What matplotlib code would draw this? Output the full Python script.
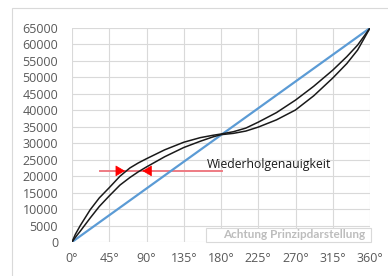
import matplotlib

matplotlib.use("Agg")
import matplotlib.pyplot as plt
from matplotlib.patches import Rectangle

plt.rcParams["font.family"] = ["Open Sans", "DejaVu Sans"]

# Werte
winkel = [0, 4, 10, 22, 33, 45, 58, 70, 80, 90, 112, 135, 155, 170, 180,
          195, 210, 225, 247, 270, 292, 315, 332, 345, 360]
kurve_oben = [0, 2300, 5000, 9800, 13400, 16500, 20000, 22500, 24000, 25300,
              28000, 30300, 31700, 32400, 32800, 33500, 34600, 36400, 39300,
              43100, 47300, 52200, 56300, 59800, 65000]
kurve_unten = [0, 1400, 3300, 7300, 10800, 14000, 17300, 19600, 21300, 22800,
               25900, 28700, 30600, 31900, 32600, 33000, 33700, 34900, 37100,
               40100, 44400, 49800, 54200, 58300, 65000]
ideal_x = [0, 360]
ideal_y = [0, 65000]

x_ticks = [0, 45, 90, 135, 180, 225, 270, 315, 360]
x_labels = [f"{t}°" for t in x_ticks]
y_ticks = list(range(0, 65001, 5000))

pfeil_y = 21600
pfeil_linie = [34, 181]
pfeil_rechts = 64  # Spitze an oberer Kurve
pfeil_links = 85   # Spitze an unterer Kurve

fig = plt.figure(figsize=(3.88, 2.76), dpi=100)
fig.patch.set_facecolor("white")

# Rahmen um das Diagramm
fig.patches.append(Rectangle((12 / 388, -0.1), 1.2, 1 - 8 / 276 + 0.1,
                             transform=fig.transFigure, facecolor="none",
                             edgecolor="#D9D9D9", linewidth=0.8))

ax = fig.add_axes([72 / 388, 1 - 242 / 276, 298 / 388, 214 / 276])
ax.set_xlim(0, 360)
ax.set_ylim(0, 65000)

ax.plot(ideal_x, ideal_y, color="#5B9BD5", linewidth=1.6, zorder=3)
ax.plot(winkel, kurve_oben, color="#1A1A1A", linewidth=1.1, zorder=4)
ax.plot(winkel, kurve_unten, color="#1A1A1A", linewidth=1.1, zorder=4)

# Wiederholgenauigkeit mit Pfeilen
ax.plot(pfeil_linie, [pfeil_y, pfeil_y], color="#EE7B83", linewidth=1.4, zorder=2)
for spitze, start in [(pfeil_rechts, pfeil_rechts - 9), (pfeil_links, pfeil_links + 9)]:
    ax.annotate("", xy=(spitze, pfeil_y), xytext=(start, pfeil_y),
                arrowprops=dict(arrowstyle="-|>,head_length=0.6,head_width=0.35",
                                color="#FF0000", linewidth=0.5,
                                shrinkA=0, shrinkB=0), zorder=5)
ax.text(163, 23400, "Wiederholgenauigkeit", fontsize=8.8, color="#1A1A1A",
        ha="left", va="center", zorder=6)

# Hinweisfeld unten rechts
ax.add_patch(Rectangle((162, 0), 199, 4250, facecolor="white", edgecolor="#D9D9D9",
                       linewidth=0.8, zorder=6, clip_on=False))
ax.text(268, 2150, "Achtung Prinzipdarstellung", fontsize=8.5, fontweight="bold",
        family=["Lato", "DejaVu Sans"], color="#BDBDBD", ha="center",
        va="center", zorder=7)

ax.set_xticks(x_ticks)
ax.set_xticklabels(x_labels)
ax.set_yticks(y_ticks)
ax.grid(True, color="#D9D9D9", linewidth=0.8, zorder=0)
ax.set_axisbelow(True)
for s in ax.spines.values():
    s.set_visible(False)
ax.tick_params(length=0, colors="#595959", labelsize=9)
ax.tick_params(axis="y", pad=10)
ax.tick_params(axis="x", pad=7)

fig.savefig("out.png", dpi=100, facecolor="white")
